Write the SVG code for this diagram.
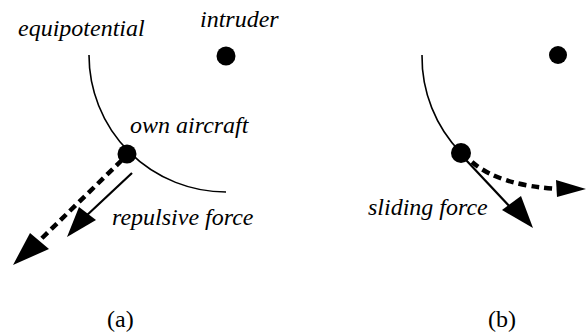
<svg xmlns="http://www.w3.org/2000/svg" width="586" height="334" viewBox="0 0 586 334">
<text id="equipotential-label" x="18" y="36" style="font-family:'Liberation Serif','Times New Roman',serif;font-size:24px;font-style:italic">equipotential</text>
<text id="intruder-label" x="200" y="27" style="font-family:'Liberation Serif','Times New Roman',serif;font-size:24px;font-style:italic">intruder</text>
<text id="own-label" x="130" y="133" style="font-family:'Liberation Serif','Times New Roman',serif;font-size:24px;font-style:italic">own aircraft</text>
<text id="repulsive-label" x="112" y="225" style="font-family:'Liberation Serif','Times New Roman',serif;font-size:24px;font-style:italic">repulsive force</text>
<text id="sliding-label" x="368" y="215" style="font-family:'Liberation Serif','Times New Roman',serif;font-size:24px;font-style:italic">sliding force</text>
<text id="label-a" x="107" y="327" style="font-family:'Liberation Serif','Times New Roman',serif;font-size:24px">(a)</text>
<text id="label-b" x="488" y="327" style="font-family:'Liberation Serif','Times New Roman',serif;font-size:24px">(b)</text>
<g id="equipotential-a"><path d="M89,55 A137,137 0 0 0 226,192" fill="none" stroke="#000" stroke-width="1.6"/></g>
<g id="intruder-a"><circle cx="226" cy="56" r="9.5"/></g>
<g id="own-a"><circle cx="127" cy="154" r="9.5"/></g>
<g id="equipotential-b"><path d="M422,55 A138,138 0 0 0 461,153" fill="none" stroke="#000" stroke-width="1.6"/></g>
<g id="intruder-b"><circle cx="558" cy="55" r="9"/></g>
<g id="own-b"><circle cx="461" cy="153" r="10"/></g>
<g id="connectors">
<g fill="none" stroke="#000" stroke-width="4.5" stroke-dasharray="8 5">
<path d="M122,160 L36,244"/>
<path d="M472,162 Q500,186 560,189"/>
</g>
<g fill="none" stroke="#000" stroke-width="2.2">
<path d="M132,173 L85,217"/>
<path d="M466,160 L512,209"/>
</g>
<g fill="#000">
<polygon points="13,265 30,233 49,249"/>
<polygon points="67,237 79,207 96,220"/>
<polygon points="533,228 502,210 521,196"/>
<polygon points="586,189 556,180 557,197"/>
</g>
</g>
</svg>
